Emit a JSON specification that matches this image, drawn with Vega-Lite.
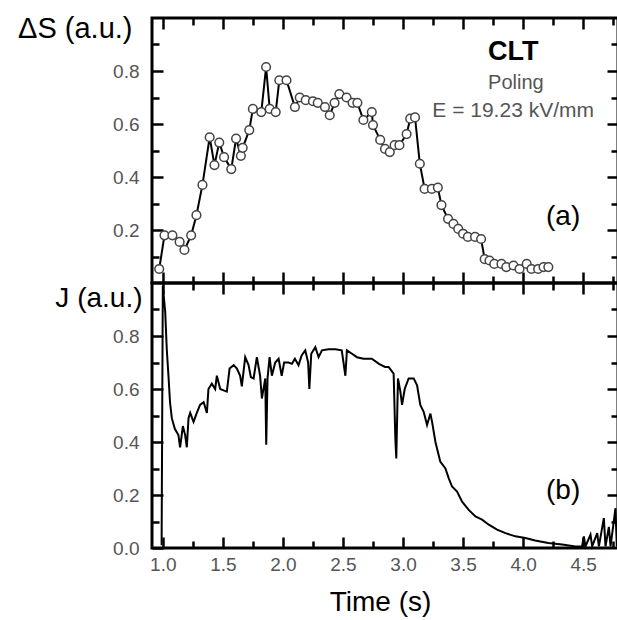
{
  "$schema": "https://vega.github.io/schema/vega-lite/v6.json",
  "padding": {"left": 16, "top": 12, "right": 0, "bottom": 0},
  "spacing": 0,
  "bounds": "flush",
  "background": "white",
  "config": {
    "font": "Liberation Sans",
    "view": {"stroke": "black", "strokeWidth": 3},
    "axis": {"grid": false, "domain": false, "tickColor": "black", "tickWidth": 2.5, "labelFont": "Liberation Sans", "labelFontSize": 19, "labelColor": "#555", "titleFont": "Liberation Sans", "titleFontSize": 28, "titleFontWeight": "normal", "titleColor": "black", "offset": 0}
  },
  "datasets": {
    "ds": [
      {"t":0.97,"v":0.053},{"t":1.014,"v":0.18},{"t":1.08,"v":0.18},{"t":1.14,"v":0.155},{"t":1.18,"v":0.125},{"t":1.236,"v":0.18},{"t":1.28,"v":0.256},{"t":1.33,"v":0.37},{"t":1.39,"v":0.55},{"t":1.43,"v":0.445},{"t":1.47,"v":0.53},{"t":1.51,"v":0.475},{"t":1.57,"v":0.43},{"t":1.61,"v":0.545},{"t":1.65,"v":0.48},{"t":1.665,"v":0.51},{"t":1.72,"v":0.577},{"t":1.75,"v":0.657},{"t":1.82,"v":0.645},{"t":1.86,"v":0.815},{"t":1.89,"v":0.657},{"t":1.94,"v":0.645},{"t":1.97,"v":0.765},{"t":2.03,"v":0.765},{"t":2.10,"v":0.664},{"t":2.14,"v":0.70},{"t":2.19,"v":0.69},{"t":2.25,"v":0.686},{"t":2.29,"v":0.68},{"t":2.35,"v":0.664},{"t":2.39,"v":0.633},{"t":2.43,"v":0.68},{"t":2.47,"v":0.713},{"t":2.53,"v":0.70},{"t":2.58,"v":0.68},{"t":2.62,"v":0.68},{"t":2.67,"v":0.615},{"t":2.74,"v":0.645},{"t":2.75,"v":0.596},{"t":2.81,"v":0.54},{"t":2.85,"v":0.506},{"t":2.89,"v":0.494},{"t":2.93,"v":0.52},{"t":2.97,"v":0.52},{"t":3.03,"v":0.562},{"t":3.06,"v":0.62},{"t":3.10,"v":0.625},{"t":3.14,"v":0.45},{"t":3.18,"v":0.355},{"t":3.24,"v":0.355},{"t":3.29,"v":0.36},{"t":3.32,"v":0.294},{"t":3.375,"v":0.242},{"t":3.42,"v":0.223},{"t":3.46,"v":0.204},{"t":3.5,"v":0.186},{"t":3.54,"v":0.174},{"t":3.6,"v":0.174},{"t":3.65,"v":0.166},{"t":3.68,"v":0.09},{"t":3.72,"v":0.085},{"t":3.76,"v":0.072},{"t":3.82,"v":0.072},{"t":3.86,"v":0.06},{"t":3.92,"v":0.066},{"t":3.97,"v":0.053},{"t":4.03,"v":0.072},{"t":4.07,"v":0.053},{"t":4.125,"v":0.053},{"t":4.17,"v":0.06},{"t":4.21,"v":0.06}
    ],
    "j": [
      {"t":0.99,"v":0.01},{"t":1.0,"v":0.99},{"t":1.02,"v":0.89},{"t":1.033,"v":0.75},{"t":1.047,"v":0.65},{"t":1.06,"v":0.55},{"t":1.075,"v":0.49},{"t":1.10,"v":0.45},{"t":1.13,"v":0.426},{"t":1.144,"v":0.38},{"t":1.167,"v":0.46},{"t":1.186,"v":0.426},{"t":1.2,"v":0.38},{"t":1.214,"v":0.49},{"t":1.228,"v":0.51},{"t":1.256,"v":0.476},{"t":1.283,"v":0.51},{"t":1.31,"v":0.54},{"t":1.34,"v":0.55},{"t":1.367,"v":0.51},{"t":1.38,"v":0.60},{"t":1.408,"v":0.62},{"t":1.436,"v":0.60},{"t":1.45,"v":0.65},{"t":1.478,"v":0.60},{"t":1.506,"v":0.595},{"t":1.533,"v":0.59},{"t":1.556,"v":0.677},{"t":1.59,"v":0.69},{"t":1.617,"v":0.677},{"t":1.644,"v":0.65},{"t":1.658,"v":0.61},{"t":1.686,"v":0.72},{"t":1.714,"v":0.69},{"t":1.733,"v":0.645},{"t":1.756,"v":0.64},{"t":1.783,"v":0.72},{"t":1.81,"v":0.65},{"t":1.825,"v":0.564},{"t":1.853,"v":0.64},{"t":1.861,"v":0.39},{"t":1.872,"v":0.64},{"t":1.889,"v":0.72},{"t":1.908,"v":0.65},{"t":1.936,"v":0.70},{"t":1.964,"v":0.714},{"t":1.99,"v":0.65},{"t":2.01,"v":0.70},{"t":2.047,"v":0.70},{"t":2.075,"v":0.695},{"t":2.10,"v":0.714},{"t":2.13,"v":0.69},{"t":2.156,"v":0.727},{"t":2.186,"v":0.746},{"t":2.21,"v":0.70},{"t":2.22,"v":0.60},{"t":2.236,"v":0.733},{"t":2.27,"v":0.758},{"t":2.297,"v":0.72},{"t":2.325,"v":0.746},{"t":2.38,"v":0.75},{"t":2.436,"v":0.75},{"t":2.49,"v":0.746},{"t":2.52,"v":0.65},{"t":2.533,"v":0.746},{"t":2.575,"v":0.733},{"t":2.617,"v":0.72},{"t":2.67,"v":0.714},{"t":2.74,"v":0.714},{"t":2.80,"v":0.695},{"t":2.85,"v":0.683},{"t":2.88,"v":0.683},{"t":2.922,"v":0.658},{"t":2.936,"v":0.414},{"t":2.944,"v":0.338},{"t":2.958,"v":0.64},{"t":2.978,"v":0.59},{"t":2.992,"v":0.54},{"t":3.014,"v":0.60},{"t":3.047,"v":0.64},{"t":3.089,"v":0.64},{"t":3.117,"v":0.614},{"t":3.144,"v":0.54},{"t":3.172,"v":0.514},{"t":3.2,"v":0.464},{"t":3.228,"v":0.507},{"t":3.242,"v":0.476},{"t":3.27,"v":0.40},{"t":3.31,"v":0.326},{"t":3.353,"v":0.30},{"t":3.381,"v":0.263},{"t":3.408,"v":0.232},{"t":3.45,"v":0.213},{"t":3.492,"v":0.175},{"t":3.547,"v":0.144},{"t":3.603,"v":0.119},{"t":3.658,"v":0.107},{"t":3.714,"v":0.088},{"t":3.783,"v":0.069},{"t":3.853,"v":0.056},{"t":3.936,"v":0.044},{"t":4.019,"v":0.038},{"t":4.1,"v":0.028},{"t":4.21,"v":0.019},{"t":4.325,"v":0.013},{"t":4.436,"v":0.006},{"t":4.49,"v":0.006},{"t":4.506,"v":0.044},{"t":4.519,"v":0.006},{"t":4.561,"v":0.05},{"t":4.575,"v":0.006},{"t":4.617,"v":0.056},{"t":4.631,"v":0.006},{"t":4.672,"v":0.113},{"t":4.686,"v":0.006},{"t":4.714,"v":0.08},{"t":4.728,"v":0.006},{"t":4.769,"v":0.15},{"t":4.78,"v":0.006}
    ],
    "annTop": [
      {"t":3.94,"v":0.755,"label":"Poling","size":20,"color":"#555"},
      {"t":3.917,"v":0.649,"label":"E = 19.23 kV/mm","size":21,"color":"#555"},
      {"t":4.333,"v":0.249,"label":"(a)","size":28,"color":"black"}
    ],
    "clt": [
      {"t":3.917,"v":0.872,"label":"CLT"}
    ],
    "annBot": [
      {"t":4.333,"v":0.214,"label":"(b)"}
    ]
  },
  "vconcat": [
    {
      "width": 466, "height": 265,
      "layer": [
        {
          "data": {"name": "ds"},
          "mark": {"type": "line", "color": "black", "strokeWidth": 2},
          "encoding": {
            "x": {"field": "t", "type": "quantitative", "scale": {"domain": [0.91, 4.79], "nice": false, "zero": false},
                  "axis": {"orient": "bottom", "values": [1,1.5,2,2.5,3,3.5,4,4.5], "tickSize": -11, "labels": false, "title": null}},
            "y": {"field": "v", "type": "quantitative", "scale": {"domain": [0, 1], "nice": false},
                  "axis": {"orient": "left", "values": [0.2,0.4,0.6,0.8], "tickSize": -11, "format": ".1f", "labelPadding": 24,
                           "title": "ΔS (a.u.)", "titleFontSize": 29, "titleAngle": 0, "titleAlign": "right", "titleBaseline": "middle", "titleX": -20, "titleY": 10}}
          }
        },
        {
          "data": {"name": "ds"},
          "mark": {"type": "point", "shape": "circle", "filled": false, "fill": "white", "fillOpacity": 1, "stroke": "#444", "strokeWidth": 1.5, "size": 75, "opacity": 1},
          "encoding": {
            "x": {"field": "t", "type": "quantitative", "axis": {"orient": "bottom", "values": [1.25,1.75,2.25,2.75,3.25,3.75,4.25,4.75], "tickSize": -7, "labels": false, "title": null}},
            "y": {"field": "v", "type": "quantitative", "axis": {"orient": "left", "values": [0.1,0.3,0.5,0.7,0.9], "tickSize": -7, "labels": false, "title": null}}
          }
        },
        {
          "data": {"name": "annTop"},
          "mark": {"type": "text", "align": "center", "baseline": "middle", "font": "Liberation Sans"},
          "encoding": {
            "x": {"field": "t", "type": "quantitative", "axis": {"orient": "top", "values": [1,1.5,2,2.5,3,3.5,4,4.5], "tickSize": -11, "labels": false, "title": null}},
            "y": {"field": "v", "type": "quantitative", "axis": {"orient": "right", "values": [0.2,0.4,0.6,0.8], "tickSize": -11, "labels": false, "title": null}},
            "text": {"field": "label"},
            "size": {"field": "size", "type": "quantitative", "scale": null},
            "color": {"field": "color", "type": "nominal", "scale": null}
          }
        },
        {
          "data": {"name": "clt"},
          "mark": {"type": "text", "align": "center", "baseline": "middle", "font": "Liberation Sans", "fontWeight": "bold", "fontSize": 27, "color": "black"},
          "encoding": {
            "x": {"field": "t", "type": "quantitative", "axis": {"orient": "top", "values": [1.25,1.75,2.25,2.75,3.25,3.75,4.25,4.75], "tickSize": -7, "labels": false, "title": null}},
            "y": {"field": "v", "type": "quantitative", "axis": {"orient": "right", "values": [0.1,0.3,0.5,0.7,0.9], "tickSize": -7, "labels": false, "title": null}},
            "text": {"field": "label"}
          }
        }
      ],
      "resolve": {"axis": {"x": "independent", "y": "independent"}}
    },
    {
      "width": 466, "height": 265,
      "layer": [
        {
          "data": {"name": "j"},
          "mark": {"type": "line", "color": "black", "strokeWidth": 2},
          "encoding": {
            "x": {"field": "t", "type": "quantitative", "scale": {"domain": [0.91, 4.79], "nice": false, "zero": false},
                  "axis": {"orient": "bottom", "values": [1,1.5,2,2.5,3,3.5,4,4.5], "tickSize": -11, "format": ".1f", "labelPadding": 18, "labelBaseline": "top",
                           "title": "Time (s)", "titleX": 228, "titleY": 54, "titleAlign": "center", "titleBaseline": "middle", "titleAnchor": null}},
            "y": {"field": "v", "type": "quantitative", "scale": {"domain": [0, 1], "nice": false},
                  "axis": {"orient": "left", "values": [0,0.2,0.4,0.6,0.8], "tickSize": -11, "format": ".1f", "labelPadding": 24,
                           "title": "J (a.u.)", "titleAngle": 0, "titleAlign": "right", "titleBaseline": "middle", "titleX": -10, "titleY": 15}}
          }
        },
        {
          "data": {"name": "annBot"},
          "mark": {"type": "text", "align": "center", "baseline": "middle", "font": "Liberation Sans", "fontSize": 28, "color": "black"},
          "encoding": {
            "x": {"field": "t", "type": "quantitative", "axis": {"orient": "bottom", "values": [1.25,1.75,2.25,2.75,3.25,3.75,4.25,4.75], "tickSize": -7, "labels": false, "title": null}},
            "y": {"field": "v", "type": "quantitative", "axis": {"orient": "left", "values": [0.1,0.3,0.5,0.7,0.9], "tickSize": -7, "labels": false, "title": null}},
            "text": {"field": "label"}
          }
        },
        {
          "data": {"name": "j"},
          "mark": {"type": "line", "strokeOpacity": 0},
          "encoding": {
            "x": {"field": "t", "type": "quantitative", "axis": {"orient": "top", "values": [1,1.5,2,2.5,3,3.5,4,4.5], "tickSize": -11, "labels": false, "title": null}},
            "y": {"field": "v", "type": "quantitative", "axis": {"orient": "right", "values": [0.2,0.4,0.6,0.8], "tickSize": -11, "labels": false, "title": null}}
          }
        },
        {
          "data": {"name": "j"},
          "mark": {"type": "line", "strokeOpacity": 0},
          "encoding": {
            "x": {"field": "t", "type": "quantitative", "axis": {"orient": "top", "values": [1.25,1.75,2.25,2.75,3.25,3.75,4.25,4.75], "tickSize": -7, "labels": false, "title": null}},
            "y": {"field": "v", "type": "quantitative", "axis": {"orient": "right", "values": [0.1,0.3,0.5,0.7,0.9], "tickSize": -7, "labels": false, "title": null}}
          }
        }
      ],
      "resolve": {"axis": {"x": "independent", "y": "independent"}}
    }
  ]
}
